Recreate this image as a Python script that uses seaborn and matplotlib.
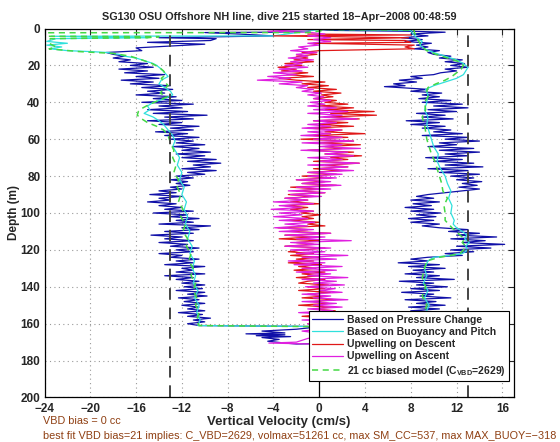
import matplotlib

matplotlib.use("Agg")
import matplotlib.pyplot as plt
import seaborn as sns

# pressure-change velocity: descent then ascent (depth m, velocity cm/s)
pres_depth = [0.5, 1.5, 2, 2.2, 3, 4, 5, 5.5, 6.5, 7.5, 8.5, 9.5, 10.5, 12, 13, 14, 15, 16, 17, 18, 19,
              20, 21, 22, 23, 24, 25, 26, 27, 28, 29, 30, 31, 32, 33, 34, 35, 36, 37, 38, 39,
              40, 41, 42, 43, 44, 45, 46, 47, 48, 49, 50, 51, 52, 53, 54, 55, 56, 57, 58, 59,
              60, 61, 62, 63, 64, 65, 66, 67, 68, 69, 70, 71, 72, 73, 74, 75, 76, 77, 78, 79,
              80, 81, 82, 83, 84, 85, 86, 87, 88, 89, 90, 91, 92, 93, 94, 95, 96, 97, 98, 99,
              100, 101, 102, 103, 104, 105, 106, 107, 108, 109, 110, 111, 112, 113, 114, 115, 116, 117, 118, 119,
              120, 121, 122, 123, 124, 125, 126, 127, 128, 129, 130, 131, 132, 133, 134, 135, 136, 137, 138, 139,
              140, 141, 142, 143, 144, 145, 146, 147, 148, 149, 150, 151, 152, 153, 154, 155, 156, 157, 158, 159,
              160, 161, 161.5, 162, 163, 164, 165, 165.5, 166, 166.5, 167, 167.5, 168.5, 169.5, 170.5, 171,
              170, 168, 166, 164, 162, 160, 158, 157, 156, 155, 154, 153, 152, 151, 150, 149, 148, 147, 146, 145,
              144, 143, 142, 141, 140, 139, 138, 137, 136, 135, 134, 133, 132, 131, 130, 129, 128, 127, 126, 125,
              124, 123, 122, 121, 120, 119, 118, 117, 116, 115, 114, 113, 112, 111, 110, 109, 108, 107, 106, 105,
              104, 103, 102, 101, 100, 99, 98, 97, 96, 95, 94, 93, 92, 91, 90, 89, 88, 87, 86, 85,
              84, 83, 82, 81, 80, 79, 78, 77, 76, 75, 74, 73, 72, 71, 70, 69, 68, 67, 66, 65,
              64, 63, 62, 61, 60, 59, 58, 57, 56, 55, 54, 53, 52, 51, 50, 49, 48, 47, 46, 45,
              44, 43, 42, 41, 40, 39, 38, 37, 36, 35, 34, 33, 32, 31.5, 31, 30, 29, 28, 27, 26,
              25, 24, 23, 22, 21, 20, 19, 18, 17, 16, 15, 14, 13, 12, 11, 10, 9, 8, 7, 6,
              5, 4, 3, 2, 1.5, 1, 0.5]
pres_vel = [-0.5, -1, -4, -10, -7, -4, -14, -9, -9.5, -15, -10, -13, -16, -15.5, -18.6, -18, -17, -18, -16.5, -17.5, -15,
            -16.5, -14.5, -17.5, -15, -17, -13.5, -16, -14, -17.3, -14.5, -16.5, -13, -15.5, -12.8, -15, -13.5, -16, -12.5, -14.5, -12,
            -15.5, -11, -14, -12, -15, -11.5, -14.5, -9.8, -13.5, -11, -15, -12, -14, -10.5, -13, -11, -14.3, -11.5, -13.5, -10.5,
            -13, -11, -12.5, -10, -12.8, -10.5, -12, -9.5, -12.5, -10, -12, -9, -11.5, -8.6, -11, -9.5, -12, -9, -11.5, -10,
            -12.5, -11, -13, -11.5, -12.5, -11.3, -13, -12, -14, -12.5, -14.8, -12, -14, -13, -15, -12.5, -14, -12, -13.5, -11,
            -14.5, -11.5, -13, -10.5, -12.5, -11, -14, -9.5, -12, -10.5, -13.5, -11, -14.7, -12, -13.5, -11, -14, -11.5, -13, -10.5,
            -12.5, -11, -14, -12, -13, -10.5, -12.5, -11, -13.5, -10, -12, -11, -12.5, -10, -13.5, -11, -12.5, -10.5, -12, -10,
            -11.8, -10.2, -12.5, -10, -11.5, -9.8, -12.3, -10.5, -11.8, -10, -12, -10.5, -11.5, -10, -12.3, -10.2, -11.5, -9.5, -11, -10,
            -11.5, -10.5, -1, -0.5, -2, -5, -3, -6.4, -3, -5.5, -2.5, -5, -3.5, -4.5, -3, -2,
            9, 8, 10, 8.5, 10, 8, 10.5, 8.5, 10, 7.5, 10.8, 8, 10.5, 7.8, 11, 8.5, 10.2, 7.5, 11.5, 8.8,
            10, 7.2, 10.5, 8, 11.2, 8.5, 10, 7, 11.8, 8.5, 10.5, 7.5, 10, 8.2, 11, 7.8, 10.5, 6.9, 9.5, 8,
            9.5, 12.5, 11, 13.5, 11.5, 15, 12, 16.2, 12.5, 14.5, 11.5, 15.5, 12, 14, 11.3, 13, 10.5, 9, 10.5, 8,
            10, 7.8, 10.2, 8.5, 10.6, 8, 10, 7.5, 9.8, 8.2, 10.5, 8, 10, 8.5, 9.5, 11, 12.5, 14, 12.2, 13.8,
            12.5, 14.2, 12, 13.5, 11.5, 14, 10.5, 13, 9.5, 14.3, 11, 13.5, 10, 12.5, 9.3, 13, 11, 14, 10.5, 13.5,
            9.5, 12, 10.5, 14, 11, 13, 9, 12.5, 10, 11.5, 9, 11, 8, 10.5, 7.6, 11.7, 9, 11, 8.5, 12,
            9.5, 13, 10, 12.5, 9, 11.5, 8.7, 10.5, 9, 10.7, 8, 9.5, 7, 5.7, 7.5, 6.5, 8.5, 7, 9, 8,
            10, 10.6, 12, 11, 13, 11.5, 12.7, 11, 12.5, 10.5, 11.5, 10, 9.5, 10.5, 8.3, 9.5, 8.5, 9.8, 7.5, 9,
            7.2, 9.5, 8, 11, 8, 1, 0]

# buoyancy and pitch velocity
buoy_depth = [0.5, 4, 4.2, 5, 5.5, 7, 8, 9, 10, 11, 12, 12.5, 13, 14, 15, 16, 17, 18, 19, 20,
              22, 24, 26, 28, 30, 32, 34, 36, 38, 40, 42, 44, 46, 48, 50, 52, 55, 58, 61, 64,
              67, 70, 74, 78, 82, 86, 90, 94, 98, 102, 106, 110, 114, 118, 122, 126, 130, 134, 138, 142,
              146, 150, 154, 158, 161, 161.5, 163,
              158, 154, 150, 146, 142, 138, 134, 130, 126, 124, 123, 122, 120, 118, 116, 114, 112, 110, 108,
              106, 104, 100, 96, 92, 88, 84, 80, 76, 72, 68, 64, 60, 56, 52, 48, 44, 40, 36, 33,
              31, 29, 27, 25, 23, 21, 19, 17, 15, 13, 11, 9, 7, 5, 3, 1, 0.5]
buoy_vel = [0, -4, -23.4, -15, -23, -23.8, -22, -23.8, -22.5, -23.5, -22, -20, -18.5, -17.5, -17, -16, -15.5, -15, -14.5, -14.2,
            -13.8, -13.5, -13.2, -13.8, -14, -13.5, -13, -12.8, -13.5, -14.5, -15, -14.8, -15.3, -14.5, -14, -13.6, -13.2, -12.8, -12.6, -12.8,
            -12.5, -12.2, -12.4, -12, -12.2, -11.8, -12, -11.6, -11.8, -11.5, -11.7, -11.3, -11.5, -11.1, -11.3, -10.9, -11.1, -10.8, -11, -10.6,
            -10.9, -10.5, -10.7, -10.4, -10.6, -0.5, 9.5,
            9.8, 9.3, 9.6, 9.2, 9.5, 9.1, 9.4, 9.2, 9.5, 10, 11.5, 12.5, 13, 12.8, 13.1, 12.7, 12.9, 12.5, 12,
            11.7, 11.8, 11.5, 11.6, 11.3, 11.5, 11.2, 11, 10.6, 10.3, 10.4, 10, 9.8, 9.6, 9.4, 9.5, 9.2, 9.4, 9.5, 9.3,
            10, 11, 12, 12.6, 12.8, 13, 12.6, 12, 11, 10, 9.2, 8.8, 9, 8.5, 8.2, 8, 0]

# upwelling on descent
desc_depth = [3, 3.5, 4, 5, 6, 6.5, 7.5, 8, 9, 10, 11, 12, 13, 14, 15, 16, 17, 18, 19,
              20, 21, 22, 23, 24, 25, 26, 27, 28, 29, 30, 31, 32, 33, 34, 35, 36, 37, 38, 39,
              40, 41, 42, 43, 44, 45, 46, 47, 48, 49, 50, 51, 52, 53, 54, 55, 56, 57, 58, 59,
              60, 61, 62, 63, 64, 65, 66, 67, 68, 69, 70, 71, 72, 73, 74, 75, 76, 77, 78, 79,
              80, 81, 82, 83, 84, 85, 86, 87, 88, 89, 90, 91, 92, 93, 94, 95, 96, 97, 98, 99,
              100, 101, 102, 103, 104, 105, 106, 107, 108, 109, 110, 111, 112, 113, 114, 115, 116, 117, 118, 119,
              120, 121, 122, 123, 124, 125, 126, 127, 128, 129, 130, 131, 132, 133, 134, 135, 136, 137, 138, 139,
              140, 141, 142, 143, 144, 145, 146, 147, 148, 149, 150, 151, 152, 153, 154, 155, 156, 157, 158, 159, 160]
desc_vel = [-1, 8, -4, 7.8, -1, 7.5, 8, -0.5, 8.3, 7.5, 8.3, 0, -1.5, -0.2, -2, -1, -2.2, -0.5, -3,
            -1.5, -3.6, -2, -3.3, -1, -2.8, -0.5, -3.5, -2, 0.5, -1.5, 0.8, -1, 1.5, -0.5, 1.9, 0.2, 1.2, -0.5, 1.5,
            0.5, 2.5, 0, 3, 0.5, 4.8, 1, 5, 0.5, 3.5, -0.5, 2.5, 0, 3, -1, 2, 0.5, 4, -0.5, 2.5,
            -1.6, 3, 0, 3.6, 0.5, 2, -1, 3, 0.5, 3.7, 1, 2.5, -0.5, 3.5, 0.5, 2.5, -0.5, 2, -1, 1.5,
            -1.5, 1, -2, 0.5, -1.5, 1.5, -2.5, 0, -2, 0.5, -2.7, -0.5, -3, -1, -2.5, 0, -3, -1, -2.5, -0.5,
            -1.6, 0.1, -1.5, -0.5, -2.5, 0, -1, 0.5, -3.6, -1, -2.5, 1, -3, -0.5, -3.5, 0, -2, -0.5, -3, 0.5,
            -1.5, -2.7, -0.5, -2.5, 0, -2, -0.5, -2.7, 0.2, -1.8, -0.3, -2.2, 0.5, -1.5, 0, -2, 0.5, -1, -1.8, 0.8,
            -1, 0.5, -1.8, 1, -1, 0.5, -1.5, 1.4, -0.5, 0.8, -1.8, 1, -0.5, 1.4, -1, 0.5, -1.5, 1, -0.5, 0.5, -1]

# upwelling on ascent
asc_depth = [171, 170.5, 170, 168, 166, 164, 162, 160, 159, 158, 157, 156, 155, 154, 153, 152, 151, 150, 149, 148, 147,
             146, 145, 144, 143, 142, 141, 140, 139, 138, 137, 136, 135, 134, 133, 132, 131, 130, 129, 128, 127,
             126, 125, 124, 123, 122, 121, 120, 119, 118, 117, 116, 115, 114, 113, 112, 111, 110, 109, 108, 107,
             106, 105, 104, 103, 102, 101, 100, 99, 98, 97, 96, 95, 94, 93, 92, 91, 90, 89, 88, 87,
             86, 85, 84, 83, 82, 81, 80, 79, 78, 77, 76, 75, 74, 73, 72, 71, 70, 69, 68, 67,
             66, 65, 64, 63, 62, 61, 60, 59, 58, 57, 56, 55, 54, 53, 52, 51, 50, 49, 48, 47,
             46, 45, 44, 43, 42, 41, 40, 39, 38, 37, 36, 35, 34, 33, 32, 31, 30, 29, 28, 27,
             26, 25, 24, 23, 22, 21, 20, 19, 18, 17, 16, 15, 14, 13, 12, 11, 10, 9, 8, 7,
             6, 5, 4, 3, 2, 1.5, 1, 0.5]
asc_vel = [-0.7, -4.4, -2, -1, 1, -1.5, 1.5, -1, 1.8, -1.5, 2, -0.5, 1.5, -1.8, 1.2, -1, 2, -0.5, 1.5, -1.5, 2.5,
           -0.5, 1, -1.5, 2, 0, 1.4, -1.2, 2.2, -0.5, 1.5, -1.5, 2.5, -1, 1, -2, 1.5, -1.5, 2, -2.2, 0.5,
           -2.7, 1.5, -1.5, 2.5, -2, 0.5, -2.5, 1, -3, 0, -2.5, 2.8, -2, 0.5, -3, 1, -3.5, -0.5, -3.9, -1,
           -3, -0.4, -3.5, -1, -4, -1.5, -3.5, -0.5, -4.2, -1.5, -3.5, -0.5, -4, -1, -3, 0.2, -2.5, 0.5, -2.7, 1,
           -2, 1.9, -1.5, 1, -2, 1.5, -1, 2, -1, 3, 0, 2.5, -1, 3.5, 0, 2, -1, 3, 0.5, 2.5,
           -1.6, 3.6, 0, 2, -1.5, 3, -0.5, 2, -1.6, 1, -1, 1.9, -1.5, 1, -1, 1.5, -0.5, 3.3, 0, 2,
           -1, 2.5, -0.5, 1.5, -1, 0.5, -0.8, 1, -0.5, 0.4, -1, 0.2, -1.5, -0.5, -2, -1, -3.5, -1.5, -5.4, -2.5,
           -4.5, -2, -4, -1.5, -3.5, -1, -3, -1.5, -2.5, -0.5, -2.7, -1, -2, -0.2, -2.5, -1, -1.8, 0, -1, 1,
           -0.5, 1, -1, 0.5, -1, -4.5, -3, -0.5]

# 21 cc biased model
model_depth = [1.2, 2.2, 2.3, 4.2, 4.4, 5, 5.5, 8, 10, 11, 12.5, 13.5, 15, 17, 19, 21, 23, 25, 27, 29,
               31, 33, 35, 37, 39, 41, 43, 45, 47, 49, 51, 53, 55, 58, 62, 66, 70, 74, 78, 82,
               86, 90, 94, 98, 102, 106, 110, 114, 118, 122, 126, 130, 134, 138, 142, 146, 150, 154, 158, 161,
               161.6, 165, 160, 155, 150, 145, 140, 135, 130, 126, 124, 123, 122, 120, 118, 116, 114, 112, 110, 108,
               106, 104, 100, 96, 92, 88, 84, 80, 76, 72, 68, 64, 60, 56, 52, 48, 44, 40, 36, 34,
               32, 30, 28, 26, 24, 22, 20, 18, 16, 14, 12, 10, 8, 6, 4, 2, 0.8, 0.6]
model_vel = [0.2, -1, -23.7, -23.7, -14, -15, -23.5, -23.6, -23, -23.6, -21, -18, -16.5, -15.5, -14.6, -14, -13.6, -13.4, -13.8, -13.5,
             -13.2, -13.6, -13.9, -13.3, -14, -14.8, -15.4, -15.8, -15.9, -15.5, -15, -14.2, -13.6, -13.2, -13, -12.7, -12.8, -12.5, -12.7, -12.3,
             -12.4, -12.1, -12.3, -11.9, -12.1, -11.7, -11.9, -11.5, -11.6, -11.2, -11.4, -11, -11.2, -10.8, -11, -10.7, -10.8, -10.5, -10.7, -10.5,
             -0.5, 9.5, 9.3, 9.1, 9.4, 9, 9.3, 9, 9.2, 9.4, 10.5, 11.5, 12.3, 12.6, 12.8, 12.5, 12.7, 12.3, 12, 11.6,
             11.3, 11, 11, 10.9, 11.2, 10.8, 10.7, 10.5, 10.3, 10.1, 9.8, 9.6, 9.4, 9.3, 9.2, 9, 9.3, 9.2, 9.6, 9.4,
             9.5, 10.2, 11, 11.6, 12, 12.4, 12.6, 12.2, 11.2, 10.2, 9.4, 9, 8.8, 8.6, 8.5, 8.3, 8.3, 0]

labels = ["Based on Pressure Change", "Based on Buoyancy and Pitch", "Upwelling on Descent",
          "Upwelling on Ascent", r"21 cc biased model (C$_{VBD}$=2629)"]
xticks = [-24, -20, -16, -12, -8, -4, 0, 4, 8, 12, 16]
yticks = list(range(0, 201, 20))
title = "SG130 OSU Offshore NH line, dive 215 started 18\u2212Apr\u22122008 00:48:59"
note1 = "VBD bias = 0 cc"
note2 = "best fit VBD bias=21 implies: C_VBD=2629, volmax=51261 cc, max SM_CC=537, max MAX_BUOY=\u2212318"

sns.set_style("white")
plt.rcParams["font.family"] = ["Liberation Sans", "DejaVu Sans"]
plt.rcParams["font.weight"] = "bold"
plt.rcParams["mathtext.fontset"] = "custom"
plt.rcParams["mathtext.rm"] = "Liberation Sans:bold"
plt.rcParams["mathtext.it"] = "Liberation Sans:bold"
plt.rcParams["mathtext.default"] = "rm"

fig = plt.figure(figsize=(5.6, 4.42), dpi=100)
ax = fig.add_axes([0.0795, 0.1007, 0.838, 0.8348])

lw = 0.9
sns.lineplot(x=pres_vel, y=pres_depth, sort=False, estimator=None, color="#1010a8", lw=lw, ax=ax, label=labels[0])
sns.lineplot(x=buoy_vel, y=buoy_depth, sort=False, estimator=None, color="#30e0dc", lw=lw, ax=ax, label=labels[1])
sns.lineplot(x=desc_vel, y=desc_depth, sort=False, estimator=None, color="#e01818", lw=lw, ax=ax, label=labels[2])
sns.lineplot(x=asc_vel, y=asc_depth, sort=False, estimator=None, color="#e020e0", lw=lw, ax=ax, label=labels[3])
sns.lineplot(x=model_vel, y=model_depth, sort=False, estimator=None, color="#44d844", lw=1.1, ax=ax,
             label=labels[4], linestyle=(0, (4, 3)))

ax.axvline(0, color="black", lw=0.9)
ax.axvline(-13, color="#444444", lw=1.4, linestyle=(0, (6, 4)))
ax.axvline(13, color="#444444", lw=1.4, linestyle=(0, (6, 4)))

ax.set_xlim(-24, 17)
ax.set_ylim(200, 0)
ax.set_xticks(xticks)
ax.set_yticks(yticks)
ax.grid(True, color="#999999", linestyle=(0, (1, 3)), lw=0.8)
ax.tick_params(direction="in", length=4, width=0.8, top=True, right=True, labelsize=8.5)
ax.tick_params(axis="x", pad=4)
ax.tick_params(axis="y", pad=3)
for lab in ax.get_xticklabels() + ax.get_yticklabels():
    lab.set_fontweight("bold")
for s in ax.spines.values():
    s.set_linewidth(0.9)
    s.set_color("black")

ax.set_xlabel("Vertical Velocity (cm/s)", fontsize=9.5, fontweight="bold", labelpad=1)
ax.set_ylabel("Depth (m)", fontsize=8.5, fontweight="bold", labelpad=0)
ax.set_title(title, fontsize=7.8, fontweight="bold", pad=6)

leg = ax.legend(loc="lower right", bbox_to_anchor=(0.99, 0.045), fontsize=7.5, frameon=True, fancybox=False,
                handlelength=3.0, labelspacing=0.22, borderpad=0.3, handletextpad=0.4, borderaxespad=0)
leg.get_frame().set_edgecolor("black")
leg.get_frame().set_linewidth(0.8)
leg.get_frame().set_alpha(1)

fig.text(0.077, 0.047, note1, fontsize=7.8, color="#8f3f12", fontweight="normal", va="center")
fig.text(0.077, 0.014, note2, fontsize=7.8, color="#8f3f12", fontweight="normal", va="center")

fig.savefig("out.png", dpi=100)
